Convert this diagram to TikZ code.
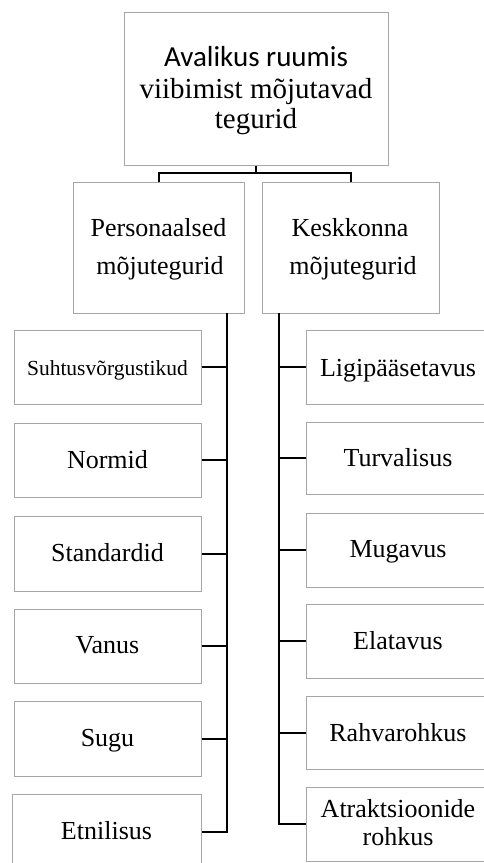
\documentclass[tikz,border=0pt]{standalone}
\usepackage{fontspec}
\setmainfont{Liberation Serif}
\newfontfamily\calibrifont{Carlito}
\begin{document}
\begin{tikzpicture}[x=1pt,y=-1pt,
  box/.style={draw=gray!70, line width=1pt, rectangle, inner sep=0pt},
  lbl/.style={anchor=base, inner sep=0pt, font=\fontsize{26}{30}\selectfont},
  conn/.style={draw=black, line width=2pt}]
\useasboundingbox (0,0) rectangle (483,863);
% top
\node[box, minimum width=264pt, minimum height=153pt] (top) at (256,88.5) {};
\node[lbl, font=\fontsize{29}{32}\selectfont\calibrifont] at (256,66) {Avalikus ruumis};
\node[lbl, font=\fontsize{29}{32}\selectfont] at (256,98.5) {viibimist mõjutavad};
\node[lbl, font=\fontsize{29}{32}\selectfont] at (256,128) {tegurid};
% second level
\node[box, minimum width=171pt, minimum height=131pt] (pers) at (158.5,247.5) {};
\node[lbl] at (158.5,236.7) {Personaalsed};
\node[lbl] at (160,274) {mõjutegurid};
\node[box, minimum width=177pt, minimum height=131pt] (kesk) at (350.5,247.5) {};
\node[lbl] at (350,236.7) {Keskkonna};
\node[lbl] at (353,274) {mõjutegurid};
% left column
\node[box, minimum width=187pt, minimum height=74pt] (suh) at (107.5,367) {};
\node[lbl, font=\fontsize{21.5}{24}\selectfont] at (107.5,375) {Suhtusvõrgustikud};
\node[box, minimum width=187pt, minimum height=74pt] (nor) at (107.5,460) {};
\node[lbl] at (107.5,468) {Normid};
\node[box, minimum width=187pt, minimum height=75pt] (sta) at (107.5,553.5) {};
\node[lbl] at (107.5,561.7) {Standardid};
\node[box, minimum width=187pt, minimum height=74pt] (van) at (107.5,646) {};
\node[lbl] at (107.5,653) {Vanus};
\node[box, minimum width=187pt, minimum height=75pt] (sug) at (107.5,738.5) {};
\node[lbl] at (107.5,746) {Sugu};
\node[box, minimum width=189pt, minimum height=76pt] (etn) at (106.5,832) {};
\node[lbl] at (106.5,839) {Etnilisus};
% right column
\node[box, minimum width=184pt, minimum height=74pt] (lig) at (398,367) {};
\node[lbl] at (398,376) {Ligipääsetavus};
\node[box, minimum width=184pt, minimum height=72pt] (tur) at (398,458) {};
\node[lbl] at (398,466.7) {Turvalisus};
\node[box, minimum width=184pt, minimum height=74pt] (mug) at (398,550) {};
\node[lbl] at (398,557.7) {Mugavus};
\node[box, minimum width=184pt, minimum height=74pt] (ela) at (398,641) {};
\node[lbl] at (398,649) {Elatavus};
\node[box, minimum width=184pt, minimum height=73pt] (rah) at (398,732.5) {};
\node[lbl] at (398,741) {Rahvarohkus};
\node[box, minimum width=184pt, minimum height=74pt] (atr) at (398,824) {};
\node[lbl] at (398,817) {Atraktsioonide};
\node[lbl] at (398,845) {rohkus};
% connectors
\coordinate (hub) at (256,173);
\draw[conn] (top.south) -- (hub);
\draw[conn] (hub) -| (pers.north);
\draw[conn] (hub) -| (kesk.north);
\coordinate (lbus) at (227,313);
\coordinate (rbus) at (279,313);
\draw[conn] (lbus) |- (etn.east);
\foreach \n in {suh,nor,sta,van,sug} \draw[conn] (\n.east) -- (\n.east -| lbus);
\draw[conn] (rbus) |- (atr.west);
\foreach \n in {lig,tur,mug,ela,rah} \draw[conn] (\n.west) -- (\n.west -| rbus);
\end{tikzpicture}
\end{document}
